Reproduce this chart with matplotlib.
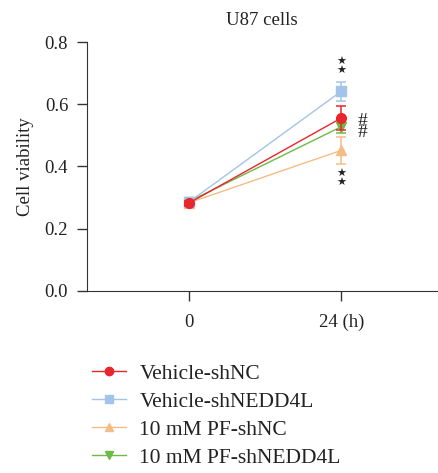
import numpy as np
import matplotlib.pyplot as plt
from matplotlib.lines import Line2D

# data
times = [0, 24]
groups = ['Vehicle-shNC', 'Vehicle-shNEDD4L', '10 mM PF-shNC', '10 mM PF-shNEDD4L']
means = {
    'Vehicle-shNC': [0.282, 0.556],
    'Vehicle-shNEDD4L': [0.285, 0.642],
    '10 mM PF-shNC': [0.283, 0.452],
    '10 mM PF-shNEDD4L': [0.287, 0.528],
}
errs = {
    'Vehicle-shNC': [0.008, 0.040],
    'Vehicle-shNEDD4L': [0.008, 0.030],
    '10 mM PF-shNC': [0.008, 0.043],
    '10 mM PF-shNEDD4L': [0.008, 0.020],
}
colors = ['#e8262b', '#a3c4e8', '#f5bd85', '#6cbb47']
markers = ['o', 's', '^', 'v']

plt.rcParams['font.family'] = ['Liberation Serif', 'DejaVu Serif']

fig = plt.figure(figsize=(4.39, 4.73), dpi=100)
ax = fig.add_axes([0.198, 0.385, 0.797, 0.526])

# draw in reverse so red sits on top
order = [2, 3, 1, 0]
for i in order:
    g = groups[i]
    ax.errorbar(times, means[g], yerr=errs[g], color=colors[i], marker=markers[i],
                markersize=7, linewidth=1.0, elinewidth=1.1, capsize=3.5, capthick=1.1,
                zorder=3 + (3 - i))

# significance marks
star_kw = dict(ha='center', va='center', fontsize=8, family='DejaVu Sans', linespacing=0.95)
ax.text(24, 0.722, '★\n★', color='#222222', **star_kw)
ax.text(24, 0.362, '★\n★', color='#222222', **star_kw)
ax.text(27.4, 0.527, '#\n#', ha='center', va='center', fontsize=14, linespacing=0.6,
        color='#222222')

ax.set_xlim(-16, 39)
ax.set_ylim(0, 0.8)
ax.set_xticks([0, 24])
ax.set_xticklabels(['0', '24 (h)'])
ax.set_yticks([0.0, 0.2, 0.4, 0.6, 0.8])
ax.set_yticklabels(['0.0', '0.2', '0.4', '0.6', '0.8'])
ax.tick_params(labelsize=13.5, length=7.5, width=1, pad=6, color='#333333', labelcolor='#222222')
ax.tick_params(axis='x', pad=9)
for s in ['top', 'right']:
    ax.spines[s].set_visible(False)
for s in ['left', 'bottom']:
    ax.spines[s].set_color('#333333')
ax.set_ylabel('Cell viability', fontsize=13.5, color='#222222', labelpad=8)
ax.set_title('U87 cells', fontsize=13.5, color='#222222', pad=12)

handles = [Line2D([], [], color=c, marker=m, markersize=6, linewidth=1.0)
           for c, m in zip(colors, markers)]
fig.legend(handles, groups, loc='upper left',
           bbox_to_anchor=(0.19, 0.249), frameon=False, fontsize=15.5,
           handlelength=1.6, handletextpad=0.6, labelspacing=0.37, labelcolor='#222222',
           borderaxespad=0)

plt.savefig('out.png', dpi=100)
